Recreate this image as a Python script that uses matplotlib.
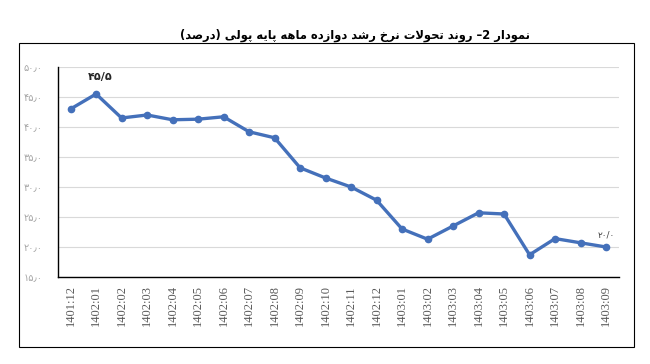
import matplotlib
matplotlib.use('Agg')
import matplotlib.pyplot as plt
from matplotlib.patches import Rectangle
from matplotlib.ticker import FuncFormatter

# data
months = ['1401:12', '1402:01', '1402:02', '1402:03', '1402:04', '1402:05',
          '1402:06', '1402:07', '1402:08', '1402:09', '1402:10', '1402:11',
          '1402:12', '1403:01', '1403:02', '1403:03', '1403:04', '1403:05',
          '1403:06', '1403:07', '1403:08', '1403:09']
growth = [43.0, 45.5, 41.5, 42.0, 41.2, 41.3, 41.7, 39.2, 38.2, 33.2, 31.5,
          30.0, 27.8, 23.0, 21.3, 23.5, 25.7, 25.5, 18.7, 21.4, 20.7, 20.0]
y_ticks = [15, 20, 25, 30, 35, 40, 45, 50]
title = 'نمودار 2– روند تحولات نرخ رشد دوازده ماهه پایه پولی (درصد)'

# arabic letter forms: isolated, final, initial, medial
forms = {
    'ا': ('\uFE8D', '\uFE8E', None, None),
    'د': ('\uFEA9', '\uFEAA', None, None),
    'ر': ('\uFEAD', '\uFEAE', None, None),
    'ز': ('\uFEAF', '\uFEB0', None, None),
    'و': ('\uFEED', '\uFEEE', None, None),
    'ن': ('\uFEE5', '\uFEE6', '\uFEE7', '\uFEE8'),
    'م': ('\uFEE1', '\uFEE2', '\uFEE3', '\uFEE4'),
    'ت': ('\uFE95', '\uFE96', '\uFE97', '\uFE98'),
    'ح': ('\uFEA1', '\uFEA2', '\uFEA3', '\uFEA4'),
    'خ': ('\uFEA5', '\uFEA6', '\uFEA7', '\uFEA8'),
    'ل': ('\uFEDD', '\uFEDE', '\uFEDF', '\uFEE0'),
    'ش': ('\uFEB5', '\uFEB6', '\uFEB7', '\uFEB8'),
    'ص': ('\uFEB9', '\uFEBA', '\uFEBB', '\uFEBC'),
    'ه': ('\uFEE9', '\uFEEA', '\uFEEB', '\uFEEC'),
    'پ': ('\uFB56', '\uFB57', '\uFB58', '\uFB59'),
    'ی': ('\uFBFC', '\uFBFD', '\uFBFE', '\uFBFF'),
}


def rtl(text):
    out = []
    i = 0
    while i < len(text):
        ch = text[i]
        if ch not in forms:
            out.append(ch)
            i += 1
            continue
        prev = text[i - 1] if i > 0 else None
        nxt = text[i + 1] if i + 1 < len(text) else None
        joins_prev = prev in forms and forms[prev][2] is not None
        if ch == 'ل' and nxt == 'ا':
            out.append('\uFEFC' if joins_prev else '\uFEFB')
            i += 2
            continue
        joins_next = nxt in forms and forms[ch][2] is not None
        iso, fin, ini, med = forms[ch]
        if joins_prev and joins_next:
            out.append(med)
        elif joins_prev:
            out.append(fin)
        elif joins_next:
            out.append(ini)
        else:
            out.append(iso)
        i += 1
    s = ''.join(reversed(out))
    return s.replace('(', '\0').replace(')', '(').replace('\0', ')')


def fa_num(v, pos=None):
    s = '%.1f' % v
    return s.translate(str.maketrans('0123456789.', '۰۱۲۳۴۵۶۷۸۹٫'))


fig = plt.figure(figsize=(6.5, 3.64), dpi=100)
ax = fig.add_axes([0.089, 0.239, 0.863, 0.577])

x = range(len(months))
ax.plot(x, growth, color='#4470BA', lw=2.4, marker='o', ms=4.5)

ax.set_xlim(-0.5, len(months) - 0.5)
ax.set_ylim(15, 50)
ax.set_yticks(y_ticks)
ax.yaxis.set_major_formatter(FuncFormatter(fa_num))
ax.set_xticks(list(x))
ax.set_xticklabels(months, rotation=90, family='Liberation Serif',
                   fontsize=9, color='#595959')
ax.tick_params(axis='y', length=0, labelsize=7, labelcolor='#a6a6a6', pad=11)
ax.tick_params(axis='x', length=0, pad=6)
ax.grid(axis='y', color='#d9d9d9', lw=0.8)
ax.set_axisbelow(True)
for side in ['top', 'right']:
    ax.spines[side].set_visible(False)
for side in ['left', 'bottom']:
    ax.spines[side].set_color('black')
    ax.spines[side].set_linewidth(1.0)

ax.annotate('۴۵/۵', (1, growth[1]), xytext=(3, 10), textcoords='offset points',
            ha='center', fontsize=8, fontweight='bold', color='#262626')
ax.annotate('۲۰/۰', (21, growth[21]), xytext=(0, 7), textcoords='offset points',
            ha='center', fontsize=6.5, color='#404040')

fig.text(0.546, 0.903, rtl(title), ha='center', va='center', fontsize=8.3,
         fontweight='bold', family='DejaVu Sans')
fig.patches.append(Rectangle((19 / 650, 1 - 347 / 364), 615 / 650, 304 / 364,
                             transform=fig.transFigure, fill=False,
                             edgecolor='black', lw=0.8))

fig.savefig('out.png', dpi=100)
